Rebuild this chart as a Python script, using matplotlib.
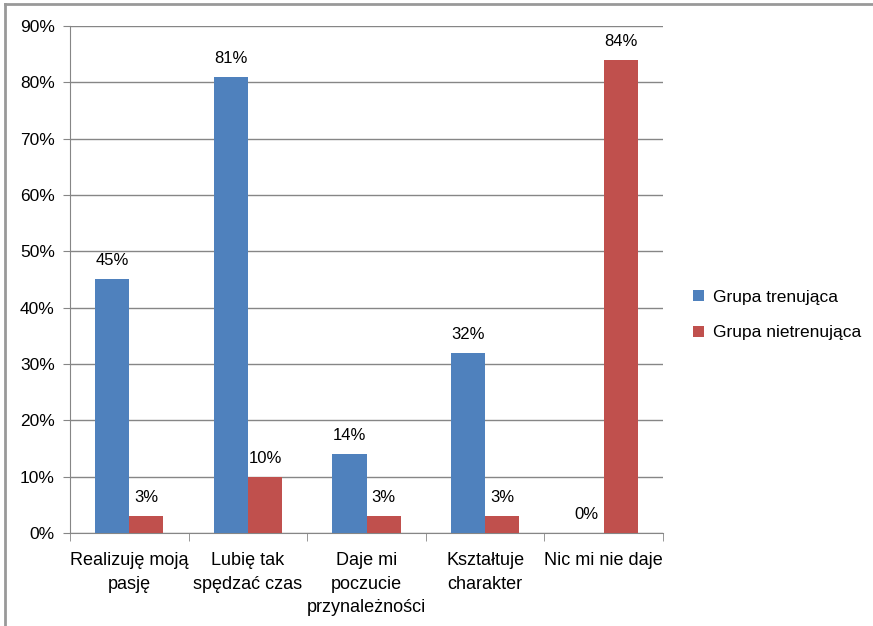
import numpy as np
import matplotlib.pyplot as plt
from matplotlib.lines import Line2D

categories = ['Realizuję moją\npasję', 'Lubię tak\nspędzać czas', 'Daje mi\npoczucie\nprzynależności',
              'Kształtuje\ncharakter', 'Nic mi nie daje']
trenujaca = [45, 81, 14, 32, 0]
nietrenujaca = [3, 10, 3, 3, 84]
series_names = ['Grupa trenująca', 'Grupa nietrenująca']

plt.rcParams['font.family'] = ['Liberation Sans', 'DejaVu Sans']

fig = plt.figure(figsize=(8.73, 6.26), dpi=100)
ax = fig.add_axes([0.0802, 0.1486, 0.6793, 0.8099])

x = np.arange(len(categories))
w = 0.287
b1 = ax.bar(x - w / 2, trenujaca, w, color='#4f81bd', label=series_names[0], zorder=3)
b2 = ax.bar(x + w / 2, nietrenujaca, w, color='#c0504d', label=series_names[1], zorder=3)

for bars, vals in ((b1, trenujaca), (b2, nietrenujaca)):
    for r, v in zip(bars, vals):
        ax.annotate('%d%%' % v, (r.get_x() + r.get_width() / 2, v), xytext=(0, 8),
                    textcoords='offset points', ha='center', va='bottom', fontsize=12)

ax.set_xlim(-0.5, len(categories) - 0.5)
ax.set_ylim(0, 90)
ax.set_yticks(range(0, 91, 10))
ax.set_yticklabels(['%d%%' % t for t in range(0, 91, 10)], fontsize=12.5)
ax.set_xticks(x)
ax.set_xticklabels(categories, fontsize=13, linespacing=1.5)
ax.set_xticks(np.arange(-0.5, len(categories), 1), minor=True)
ax.tick_params(axis='x', which='major', length=0, pad=14)
ax.tick_params(axis='x', which='minor', length=6, color='#868686')
ax.tick_params(axis='y', length=5, color='#868686', pad=6)
ax.grid(axis='y', color='#868686', linewidth=1, zorder=0)
for s in ['top', 'right']:
    ax.spines[s].set_visible(False)
for s in ['left', 'bottom']:
    ax.spines[s].set_color('#868686')

ax.legend(loc='center left', bbox_to_anchor=(1.025, 0.43), frameon=False, fontsize=12.5,
          handlelength=0.6, handleheight=0.6, labelspacing=1.2, handletextpad=0.5)

fig.add_artist(Line2D([5 / 873, 1], [1 - 4 / 626, 1 - 4 / 626], color='#999999', lw=2))
fig.add_artist(Line2D([5 / 873, 5 / 873], [0, 1 - 4 / 626], color='#999999', lw=2))

fig.savefig('out.png', dpi=100)
